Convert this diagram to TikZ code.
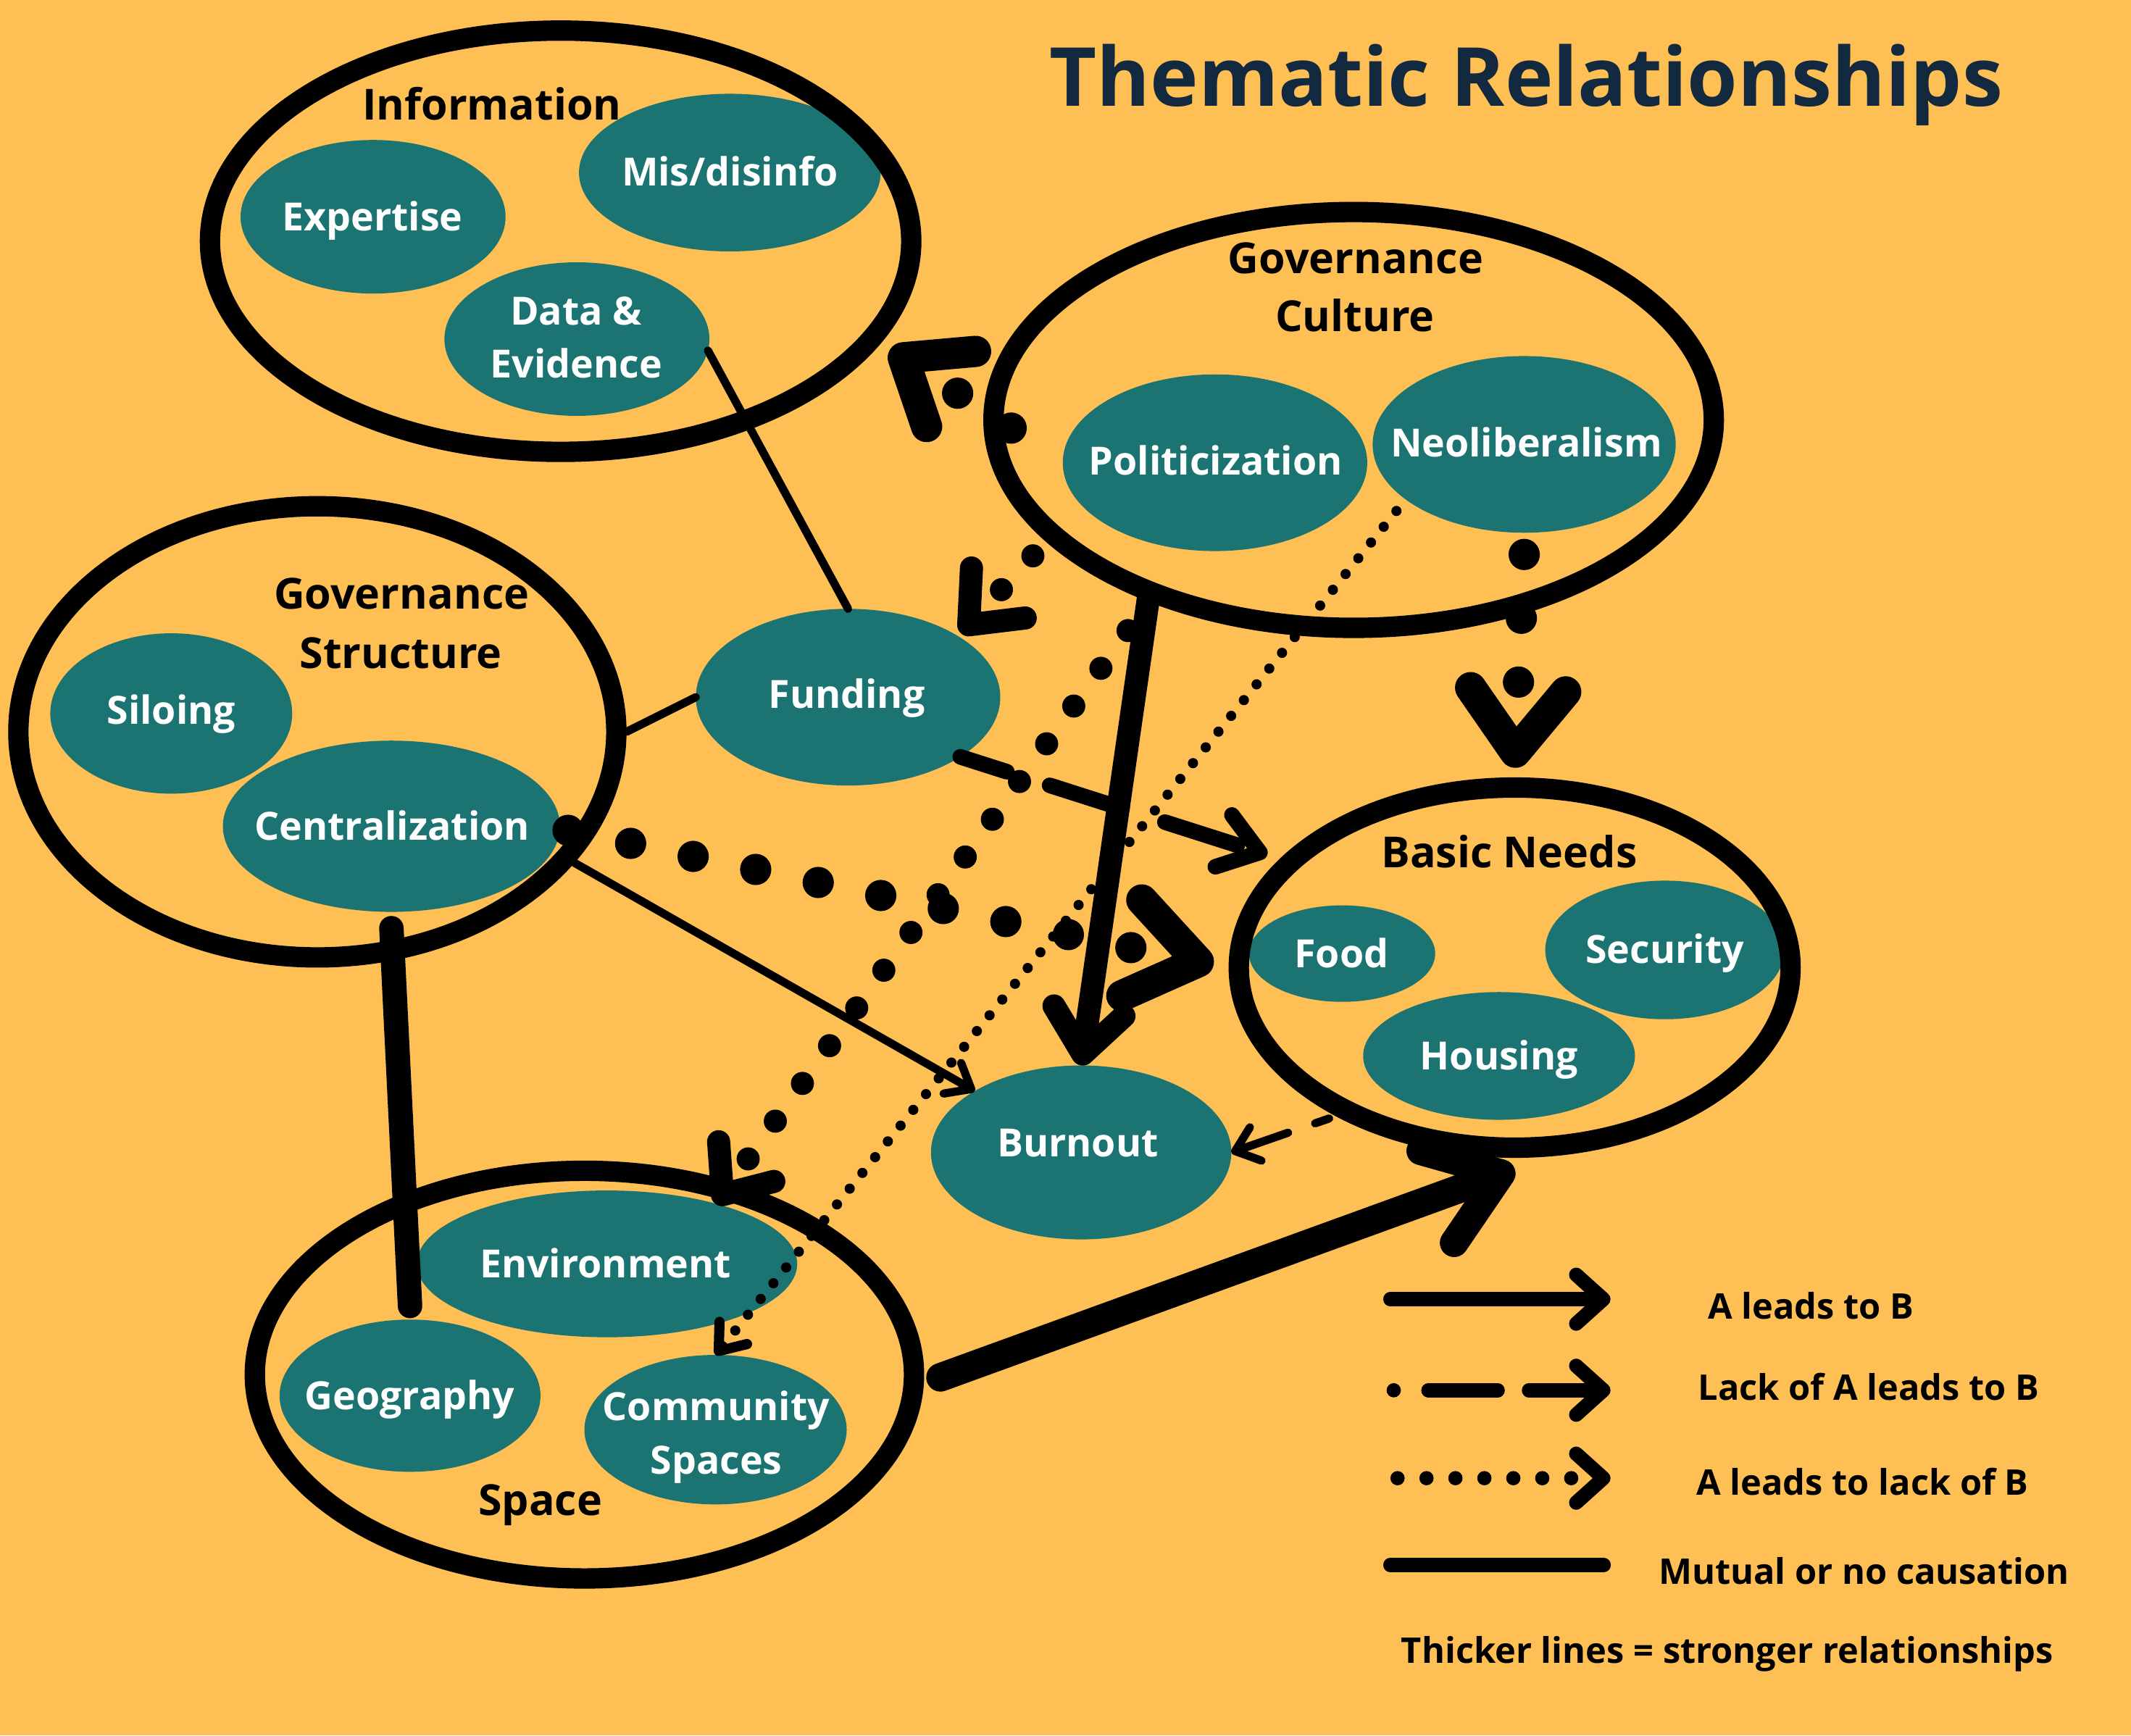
\documentclass[tikz,border=0pt]{standalone}
\usepackage{fontspec}
\setmainfont{Open Sans}
\usetikzlibrary{arrows.meta,calc,shapes.geometric}
\definecolor{bgc}{HTML}{FEBF55}
\definecolor{tealc}{HTML}{1B7471}
\definecolor{navy}{HTML}{13293F}
\begin{document}
\begin{tikzpicture}[x=1pt,y=-1pt,
  grp/.style={ellipse, draw=black, line width=15pt, inner sep=0pt},
  tl/.style={ellipse, fill=tealc, inner sep=0pt, outer sep=0pt},
  gtxt/.style={anchor=base, inner sep=0pt, font=\bfseries\fontsize{31.5}{43}\selectfont, text=black},
  wtxt/.style={anchor=base, inner sep=0pt, font=\bfseries\fontsize{28.6}{39}\selectfont, text=white},
  ltxt/.style={anchor=base, inner sep=0pt, font=\bfseries\fontsize{26}{30}\selectfont, text=black},
  conn/.style={draw=black, line cap=round, line join=round},
  dotline/.style={dash pattern=on 0pt off #1},
  barb/.style 2 args={-{Straight Barb[length=#1, width=#2, round]}},
]
\fill[bgc] (0,0) rectangle (1568,1277);
\useasboundingbox (0,0) rectangle (1568,1277);

% ---------- teal theme nodes ----------
\node[tl, minimum width=195pt, minimum height=113pt] (expt) at (274.5,159.5) {};
\node[tl, minimum width=222pt, minimum height=116pt] (misd) at (537,127) {};
\node[tl, minimum width=195pt, minimum height=113pt] (data) at (424.5,249.5) {};
\node[tl, minimum width=224pt, minimum height=130pt] (poli) at (894,340.5) {};
\node[tl, minimum width=223pt, minimum height=130pt] (neo) at (1121.5,327) {};
\node[tl, minimum width=178pt, minimum height=118pt] (silo) at (126,525) {};
\node[tl, minimum width=248pt, minimum height=126pt] (cent) at (288,608) {};
\node[tl, minimum width=224pt, minimum height=130pt] (fund) at (624,513) {};
\node[tl, minimum width=137pt, minimum height=71pt] (food) at (987.5,701.7) {};
\node[tl, minimum width=176pt, minimum height=102pt] (secu) at (1225,699) {};
\node[tl, minimum width=200pt, minimum height=94pt] (hous) at (1103,777) {};
\node[tl, minimum width=221pt, minimum height=128pt] (burn) at (795.5,848) {};
\node[tl, minimum width=280pt, minimum height=108pt] (env) at (446.6,930) {};
\node[tl, minimum width=192pt, minimum height=112pt] (geo) at (301.7,1027) {};
\node[tl, minimum width=193pt, minimum height=110pt] (comm) at (526.5,1052) {};

% ---------- group outlines ----------
\node[grp, minimum width=516pt, minimum height=310pt] (info) at (412.5,177.5) {};
\node[grp, minimum width=530pt, minimum height=306pt] (gc) at (996,309) {};
\node[grp, minimum width=440pt, minimum height=332pt] (gs) at (233.5,538.5) {};
\node[grp, minimum width=406pt, minimum height=265pt] (bn) at (1114.5,712) {};
\node[grp, minimum width=485pt, minimum height=300pt] (space) at (430,1011.5) {};

% ---------- title ----------
\node[anchor=base, inner sep=0pt, font=\bfseries\fontsize{60}{72}\selectfont, text=navy] (title) at (1123,78) {Thematic Relationships};

% ---------- group labels ----------
\node[gtxt] (info-t) at (362,88) {Information};
\node[gtxt] (gc-t1) at (997.5,201) {Governance};
\node[gtxt] (gc-t2) at (997,244) {Culture};
\node[gtxt] (gs-t1) at (295.5,448) {Governance};
\node[gtxt] (gs-t2) at (295,492) {Structure};
\node[gtxt] (bn-t) at (1110.5,638.6) {Basic Needs};
\node[gtxt] (space-t) at (397.6,1115) {Space};

% ---------- theme labels ----------
\node[wtxt] (expt-t) at (274,170) {Expertise};
\node[wtxt] (misd-t) at (537,137) {Mis/disinfo};
\node[wtxt] (data-t1) at (424,239) {Data \&};
\node[wtxt] (data-t2) at (424,278) {Evidence};
\node[wtxt] (poli-t) at (894.5,349.5) {Politicization};
\node[wtxt] (neo-t) at (1123,336) {Neoliberalism};
\node[wtxt] (silo-t) at (126,533) {Siloing};
\node[wtxt] (cent-t) at (288.5,618) {Centralization};
\node[wtxt] (fund-t) at (623,521) {Funding};
\node[wtxt] (food-t) at (987,712) {Food};
\node[wtxt] (secu-t) at (1225,709) {Security};
\node[wtxt] (hous-t) at (1103,787) {Housing};
\node[wtxt] (burn-t) at (793,851) {Burnout};
\node[wtxt] (env-t) at (445.5,940) {Environment};
\node[wtxt] (geo-t) at (301.5,1037) {Geography};
\node[wtxt] (comm-t1) at (527,1045) {Community};
\node[wtxt] (comm-t2) at (527,1084.5) {Spaces};

% ---------- connectors ----------
\draw[conn, line width=6pt] (data.-5) -- (fund.north);
\draw[conn, line width=6pt] (gs.east) -- (fund.west);
\draw[conn, line width=18pt] ($(cent.south)+(0,12)$) -- ($(geo.north)+(0,-10)$);
\draw[conn, line width=6pt, barb={16pt}{26pt}] (gs.-27) -- (burn.150);
\draw[conn, line width=23pt, dotline=47pt, barb={50pt}{72pt}] ($(cent.east)+(6,3)$) -- ($(bn.west)+(-11,-2)$);
\draw[conn, line width=11.5pt, dash pattern=on 56pt off 33pt, dash phase=20pt, barb={28pt}{40pt}] (fund.-28) -- ($(bn)+(-182,-83)$);
\draw[conn, line width=23pt, dotline=47pt, barb={42pt}{66pt}] ($(gc)+(-252,6)$) -- ($(info)+(242.5,79.5)$);
\draw[conn, line width=17pt, dotline=34pt, barb={32pt}{54pt}] ($(gc)+(-236,100)$) -- ($(fund)+(83,-47)$);
\draw[draw=black, line width=17pt, barb={32pt}{52pt}] ($(gc)+(-151,131)$) -- (burn.north);
\draw[conn, line width=17pt, dotline=34.2pt, barb={30pt}{50pt}] ($(gc)+(-166,155)$) -- ($(env)+(80,-44)$);
\draw[conn, line width=7.5pt, dotline=14.9pt, barb={17pt}{26pt}] ($(neo)+(-94,49)$) -- (comm.north);
\draw[conn, line width=23pt, dotline=47pt, barb={46pt}{70pt}] ($(neo.south)+(0,16)$) -- ($(bn.north)+(0,-7)$);
\draw[conn, line width=6pt, dash pattern=on 11pt off 21pt on 200pt off 1pt, barb={16pt}{26pt}] ($(bn)+(-136.5,111)$) -- (burn.east);
\draw[conn, line width=21pt, barb={50pt}{72pt}] ($(space.east)+(12,2)$) -- ($(bn.south)+(0,8)$);

% ---------- legend ----------
\coordinate (l1a) at (1023,956);   \coordinate (l1b) at (1185,956);
\coordinate (l2a) at (1025.5,1023); \coordinate (l2b) at (1185,1023);
\coordinate (l3a) at (1028.3,1087.7); \coordinate (l3b) at (1185,1087.7);
\coordinate (l4a) at (1023,1151.6); \coordinate (l4b) at (1180,1151.6);
\draw[conn, line width=10.5pt, barb={20pt}{36pt}] (l1a) -- (l1b);
\draw[conn, line width=10.5pt, dash pattern=on 0pt off 25.5pt on 51pt off 23pt on 200pt off 1pt, barb={20pt}{36pt}] (l2a) -- (l2b);
\draw[conn, line width=10.5pt, dotline=21.3pt, barb={20pt}{36pt}] (l3a) -- (l3b);
\draw[conn, line width=10.5pt] (l4a) -- (l4b);
\node[ltxt] (lg1) at (1332.5,970.5) {A leads to B};
\node[ltxt] (lg2) at (1375,1030.4) {Lack of A leads to B};
\node[ltxt] (lg3) at (1370.5,1100) {A leads to lack of B};
\node[ltxt] (lg4) at (1371.5,1165.6) {Mutual or no causation};
\node[ltxt] (lg5) at (1271,1224) {Thicker lines = stronger relationships};
\end{tikzpicture}
\end{document}
